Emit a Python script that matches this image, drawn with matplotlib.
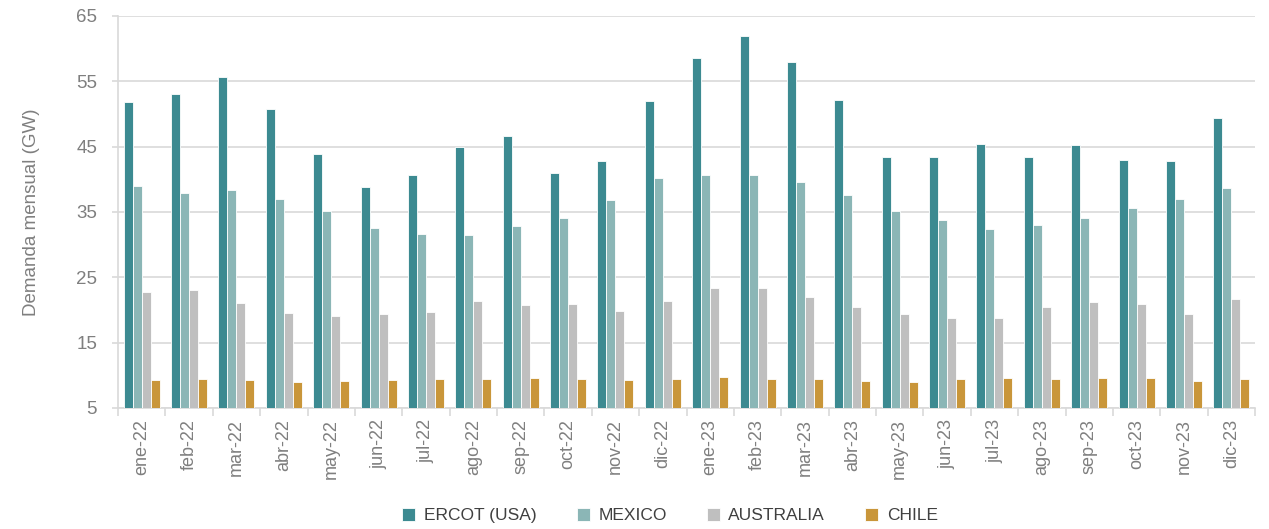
import numpy as np
import matplotlib
matplotlib.use("Agg")
import matplotlib.pyplot as plt
from matplotlib.ticker import FixedLocator, NullFormatter

months = ["ene-22", "feb-22", "mar-22", "abr-22", "may-22", "jun-22", "jul-22", "ago-22",
          "sep-22", "oct-22", "nov-22", "dic-22", "ene-23", "feb-23", "mar-23", "abr-23",
          "may-23", "jun-23", "jul-23", "ago-23", "sep-23", "oct-23", "nov-23", "dic-23"]

ercot = [51.8, 53.1, 55.6, 50.8, 43.9, 38.8, 40.6, 44.9, 46.6, 40.9, 42.8, 51.9,
         58.5, 61.9, 57.9, 52.1, 43.4, 43.4, 45.4, 43.4, 45.2, 42.9, 42.8, 49.3]
mexico = [39.0, 37.9, 38.4, 37.0, 35.1, 32.6, 31.6, 31.5, 32.9, 34.1, 36.8, 40.2,
          40.7, 40.7, 39.6, 37.6, 35.1, 33.8, 32.4, 33.0, 34.0, 35.6, 37.0, 38.7]
australia = [22.8, 23.1, 21.0, 19.5, 19.0, 19.4, 19.6, 21.4, 20.8, 20.9, 19.8, 21.4,
             23.3, 23.4, 21.9, 20.4, 19.4, 18.7, 18.8, 20.4, 21.2, 20.9, 19.4, 21.6]
chile = [9.3, 9.45, 9.3, 8.9, 9.05, 9.2, 9.45, 9.35, 9.6, 9.45, 9.2, 9.45,
         9.7, 9.35, 9.35, 9.05, 8.9, 9.35, 9.6, 9.35, 9.6, 9.6, 9.05, 9.35]

series = [("ERCOT (USA)", ercot, "#3C8A91"),
          ("MEXICO", mexico, "#8BB6B6"),
          ("AUSTRALIA", australia, "#BFBFBF"),
          ("CHILE", chile, "#C9963A")]

plt.rcParams["font.family"] = ["Liberation Sans Narrow", "Liberation Sans", "DejaVu Sans"]
text_color = "#7F7F7F"
line_color = "#D9D9D9"

fig = plt.figure(figsize=(12.69, 5.29), dpi=100)
ax = fig.add_axes([0.093, 0.229, 0.896, 0.741])

x = np.arange(len(months))
bw = 0.19
for i, (name, vals, color) in enumerate(series):
    offs = (i - 1.5) * bw
    ax.bar(x + offs, np.array(vals) - 5, bottom=5, width=bw, color=color,
           edgecolor="white", linewidth=0.6, label=name, zorder=3)

ax.set_xlim(-0.5, len(months) - 0.5)
ax.set_ylim(5, 65)
ax.set_yticks(range(5, 66, 10))
ax.grid(axis="y", color=line_color, linewidth=1.2, zorder=0)

ax.set_xticks(x)
ax.set_xticklabels(months, rotation=90)
ax.xaxis.set_minor_locator(FixedLocator(np.arange(-0.5, len(months), 1)))
ax.xaxis.set_minor_formatter(NullFormatter())
ax.tick_params(axis="x", which="major", length=0, pad=8, labelsize=13, labelcolor=text_color)
ax.tick_params(axis="x", which="minor", length=6, color=line_color, width=1.2)
ax.tick_params(axis="y", length=4, color=line_color, width=1.2, pad=11,
               labelsize=13.5, labelcolor=text_color)

for s in ["top", "right"]:
    ax.spines[s].set_visible(False)
for s in ["left", "bottom"]:
    ax.spines[s].set_color(line_color)
    ax.spines[s].set_linewidth(1.2)

ax.set_ylabel("Demanda mensual (GW)", fontsize=13.5, color=text_color, labelpad=26)

fig.legend(loc="center", bbox_to_anchor=(0.528, 0.025), ncol=4, frameon=False,
           fontsize=12.5, handlelength=0.75, handleheight=0.75, columnspacing=2.3,
           handletextpad=0.5, labelcolor="#404040")

fig.savefig("out.png", dpi=100)
